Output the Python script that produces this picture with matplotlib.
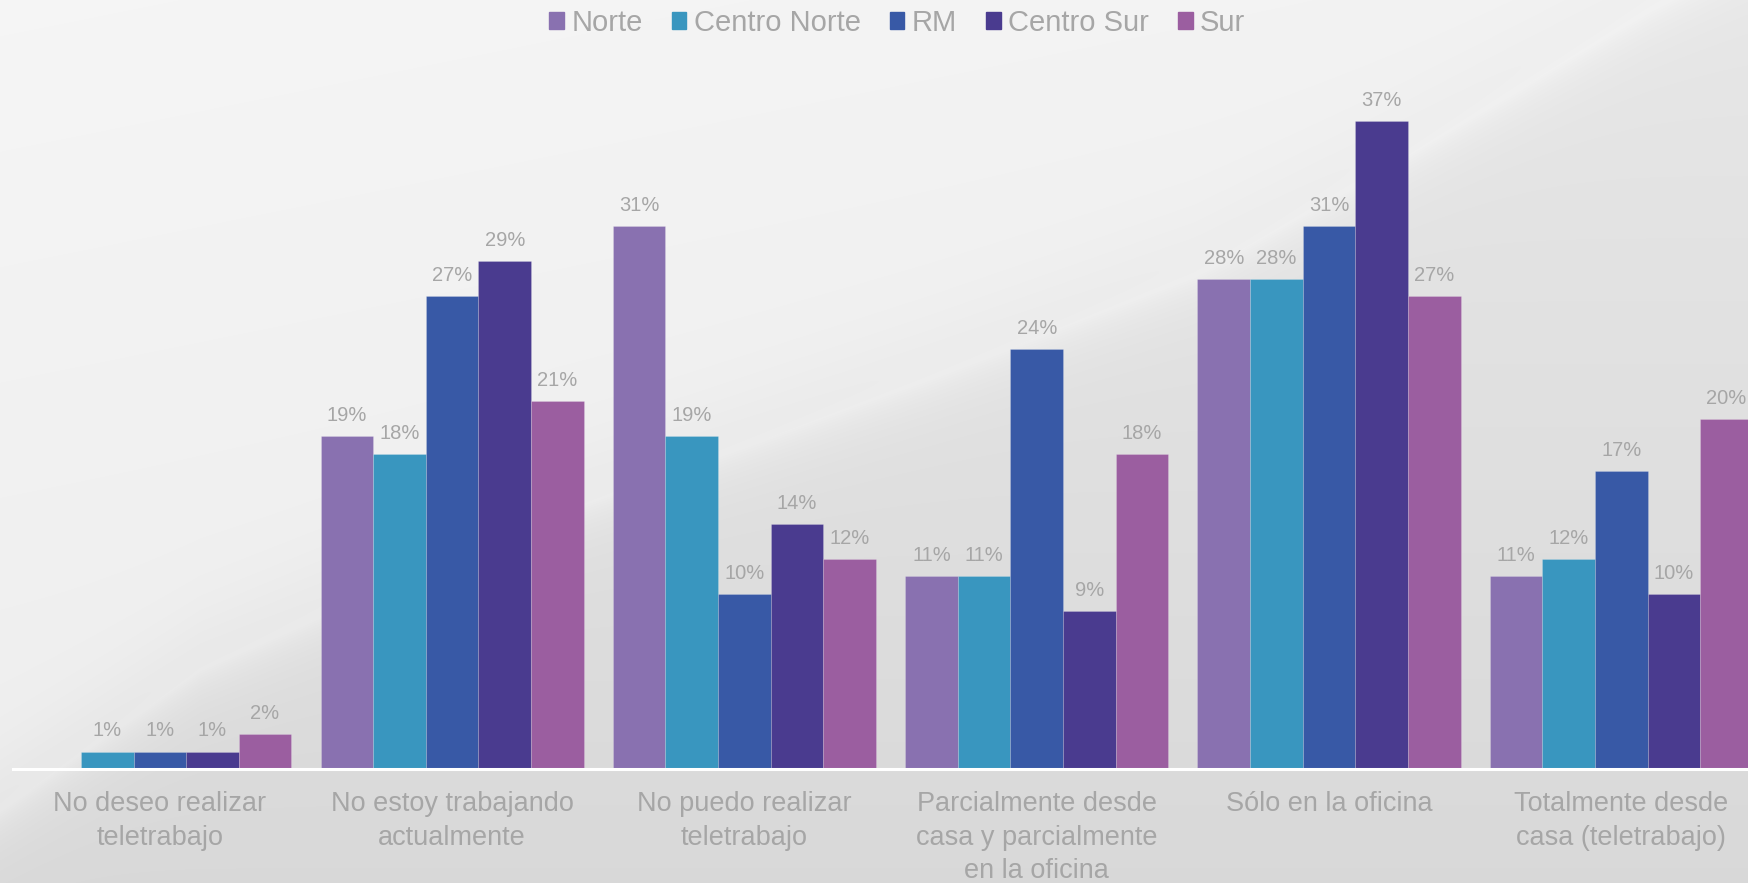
import matplotlib
matplotlib.use('Agg')
import matplotlib.pyplot as plt
import matplotlib.patches as mpatches
import numpy as np

# --- data ---
categories = ['No deseo realizar\nteletrabajo',
              'No estoy trabajando\nactualmente',
              'No puedo realizar\nteletrabajo',
              'Parcialmente desde\ncasa y parcialmente\nen la oficina',
              'Sólo en la oficina',
              'Totalmente desde\ncasa (teletrabajo)']
series = ['Norte', 'Centro Norte', 'RM', 'Centro Sur', 'Sur']
norte        = [0, 19, 31, 11, 28, 11]
centro_norte = [1, 18, 19, 11, 28, 12]
rm           = [1, 27, 10, 24, 31, 17]
centro_sur   = [1, 29, 14, 9, 37, 10]
sur          = [2, 21, 12, 18, 27, 20]
values = [norte, centro_norte, rm, centro_sur, sur]

colors = ['#8971B0', '#3996BF', '#3859A6', '#4A3B8F', '#9B5EA0']
TXT = '#A6A6A6'
FONT = 'Liberation Sans'

W, H = 1749, 883
fig = plt.figure(figsize=(W / 100, H / 100), dpi=100)

# --- background: light upper-left, grey lower-right with a soft swoosh ---
yy, xx = np.mgrid[0:H, 0:W].astype(float)
cx = [0, 200, 500, 926, 1194, 1400, 1650, 1800]
cy = [800, 660, 525, 370, 266, 150, 0, -80]
curve = np.interp(xx, cx, cy)
d = yy - curve
t = 1 / (1 + np.exp(-d / 30))
light = 0.962 - 0.03 * (yy / H) - 0.012 * (xx / W)
dark = 0.905 - 0.055 * (yy / H)
val = light * (1 - t) + dark * t
val += 0.025 * np.exp(-np.abs(d - 10) / 18)
val = np.clip(val, 0, 1)
img = np.dstack([val, val, val])

bg = fig.add_axes([0, 0, 1, 1], zorder=0)
bg.imshow(img, extent=[0, W, H, 0], aspect='auto')
bg.axis('off')

# --- bars ---
ax = fig.add_axes([13.4 / W, 0.1291, 1 - 13.4 / W, 0.7928], zorder=1)
ax.patch.set_alpha(0)

x = np.arange(len(categories))
bw = 0.18
for i, (name, vals, c) in enumerate(zip(series, values, colors)):
    pos = x + (i - 2) * bw
    bars = ax.bar(pos, vals, width=bw, color=c, label=name,
                  edgecolor=(1, 1, 1, 0.2), linewidth=0.6)
    for b, v in zip(bars, vals):
        if v > 0:
            ax.annotate(f'{v}%', (b.get_x() + b.get_width() / 2, v),
                        xytext=(0, 8), textcoords='offset points',
                        ha='center', va='bottom', fontsize=14.5,
                        color=TXT, family=FONT)

ax.set_xlim(-0.501, 5.437)
ax.set_ylim(0, 40)
ax.set_xticks(x)
ax.set_xticklabels(categories, fontsize=19.5, color=TXT, family=FONT,
                   linespacing=1.37)
ax.tick_params(axis='x', length=0, pad=16)
ax.set_yticks([])
for s in ['top', 'right', 'left']:
    ax.spines[s].set_visible(False)
ax.spines['bottom'].set_color('white')
ax.spines['bottom'].set_linewidth(2.2)

handles = [mpatches.Patch(color=c, label=n) for c, n in zip(colors, series)]
fig.legend(handles=handles, loc='center', bbox_to_anchor=(0.513, 0.974),
           ncol=5, frameon=False, labelcolor=TXT,
           prop={'family': FONT, 'size': 21},
           handlelength=0.5, handleheight=0.5, handletextpad=0.25,
           columnspacing=1.0)

fig.savefig('out.png', dpi=100)
